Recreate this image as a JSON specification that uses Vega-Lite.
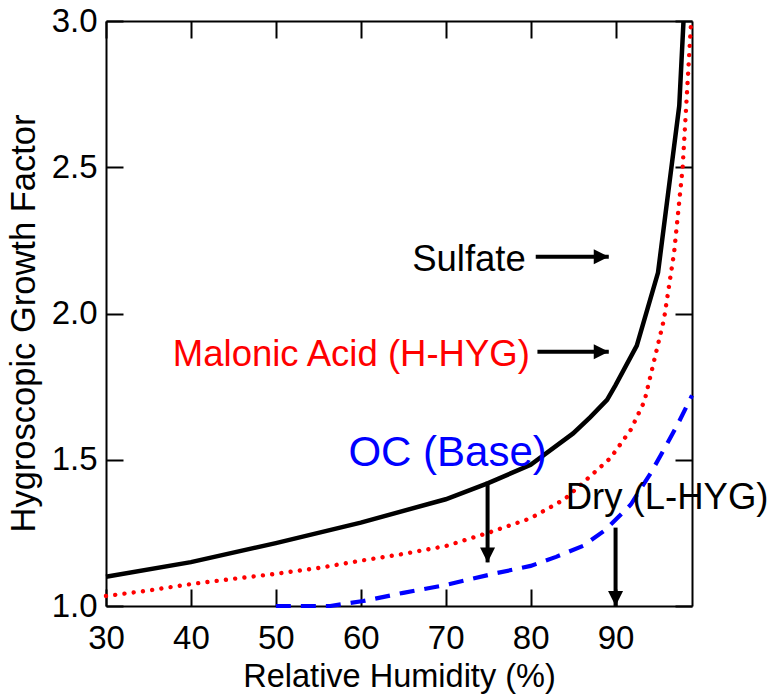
{
  "$schema": "https://vega.github.io/schema/vega-lite/v6.json",
  "width": 586,
  "height": 585,
  "autosize": "none",
  "padding": {"left": 106, "top": 21, "right": 81, "bottom": 93},
  "background": "white",
  "config": {
    "view": {"stroke": null},
    "font": "Liberation Sans",
    "axis": {
      "domainColor": "black", "domainWidth": 2,
      "tickColor": "black", "tickWidth": 2, "tickSize": -17,
      "grid": false,
      "labelFont": "Liberation Sans", "labelFontSize": 33, "labelColor": "black",
      "labelFlush": false, "labelOverlap": false,
      "titleFont": "Liberation Sans", "titleFontSize": 32.5, "titleFontWeight": "normal", "titleColor": "black"
    }
  },
  "datasets": {
    "sulfate": [
      {"rh": 30, "gf": 1.10}, {"rh": 40, "gf": 1.15}, {"rh": 50, "gf": 1.215}, {"rh": 60, "gf": 1.285},
      {"rh": 70, "gf": 1.365}, {"rh": 75, "gf": 1.42}, {"rh": 80, "gf": 1.483}, {"rh": 85, "gf": 1.59},
      {"rh": 87, "gf": 1.645}, {"rh": 89, "gf": 1.705}, {"rh": 90, "gf": 1.755}, {"rh": 92.5, "gf": 1.89},
      {"rh": 95, "gf": 2.14}, {"rh": 97.5, "gf": 2.71}, {"rh": 98, "gf": 3.0}
    ],
    "malonic": [
      {"rh": 30, "gf": 1.034}, {"rh": 35, "gf": 1.053}, {"rh": 40, "gf": 1.075}, {"rh": 45, "gf": 1.093},
      {"rh": 50, "gf": 1.11}, {"rh": 55, "gf": 1.13}, {"rh": 60, "gf": 1.155}, {"rh": 65, "gf": 1.178},
      {"rh": 70, "gf": 1.205}, {"rh": 75, "gf": 1.25}, {"rh": 80, "gf": 1.30}, {"rh": 84, "gf": 1.365},
      {"rh": 86.3, "gf": 1.425}, {"rh": 89.4, "gf": 1.506}, {"rh": 91.8, "gf": 1.603}, {"rh": 93.4, "gf": 1.70},
      {"rh": 95.7, "gf": 1.98}, {"rh": 96.9, "gf": 2.21}, {"rh": 97.9, "gf": 2.50}, {"rh": 98.9, "gf": 3.0}
    ],
    "oc": [
      {"rh": 50, "gf": 1.0}, {"rh": 56.4, "gf": 1.0}, {"rh": 60.3, "gf": 1.017}, {"rh": 65, "gf": 1.045},
      {"rh": 69.7, "gf": 1.07}, {"rh": 75.6, "gf": 1.11}, {"rh": 80, "gf": 1.137}, {"rh": 83, "gf": 1.168},
      {"rh": 86.2, "gf": 1.206}, {"rh": 88.8, "gf": 1.26}, {"rh": 91.8, "gf": 1.347}, {"rh": 94.15, "gf": 1.455},
      {"rh": 95.6, "gf": 1.53}, {"rh": 97.3, "gf": 1.62}, {"rh": 99, "gf": 1.72}
    ],
    "arrows": [
      {"x": 80.6, "y": 2.194, "x2": 89.2, "y2": 2.194, "dir": "right"},
      {"x": 80.8, "y": 1.869, "x2": 89.2, "y2": 1.869, "dir": "right"},
      {"x": 74.93, "y": 1.425, "x2": 74.93, "y2": 1.149, "dir": "down"},
      {"x": 90.0, "y": 1.268, "x2": 90.0, "y2": 1.0, "dir": "down"}
    ],
    "labels": [
      {"x": 66.05, "y": 2.144, "text": "Sulfate", "series": "sulfate"},
      {"x": 37.87, "y": 1.819, "text": "Malonic Acid (H-HYG)", "series": "malonic"},
      {"x": 84.13, "y": 1.33, "text": "Dry (L-HYG)", "series": "dry"}
    ],
    "oclabel": [
      {"x": 58.54, "y": 1.4776, "text": "OC (Base)", "series": "oc"}
    ]
  },
  "layer": [
    {
      "data": {"name": "sulfate"},
      "mark": {"type": "line", "color": "black", "strokeWidth": 4.5},
      "encoding": {
        "x": {"field": "rh", "type": "quantitative",
              "scale": {"domain": [30, 99], "nice": false, "zero": false},
              "axis": {"orient": "bottom", "values": [30, 40, 50, 60, 70, 80, 90], "labelPadding": 33,
                       "title": "Relative Humidity (%)", "titlePadding": 5}},
        "y": {"field": "gf", "type": "quantitative",
              "scale": {"domain": [1, 3], "nice": false, "zero": false},
              "axis": {"orient": "left", "values": [1, 1.5, 2, 2.5, 3], "format": ".1f", "labelPadding": 26,
                       "title": "Hygroscopic Growth Factor", "titleFontSize": 34.5, "titlePadding": 10, "titleY": 302}}
      }
    },
    {
      "data": {"name": "malonic"},
      "mark": {"type": "line", "color": "#ff0000", "strokeWidth": 4.4, "strokeDash": [0.01, 9.3], "strokeCap": "round"},
      "encoding": {
        "x": {"field": "rh", "type": "quantitative",
              "scale": {"domain": [30, 99], "nice": false, "zero": false},
              "axis": {"orient": "top", "values": [30, 40, 50, 60, 70, 80, 90], "labels": false, "title": null}},
        "y": {"field": "gf", "type": "quantitative",
              "scale": {"domain": [1, 3], "nice": false, "zero": false},
              "axis": {"orient": "right", "values": [1, 1.5, 2, 2.5, 3], "labels": false, "title": null}}
      }
    },
    {
      "data": {"name": "oc"},
      "mark": {"type": "line", "color": "#0000ff", "strokeWidth": 4.2, "strokeDash": [15, 10]},
      "encoding": {
        "x": {"field": "rh", "type": "quantitative", "axis": null},
        "y": {"field": "gf", "type": "quantitative", "axis": null}
      }
    },
    {
      "data": {"name": "arrows"},
      "mark": {"type": "rule", "color": "black", "strokeWidth": 4},
      "encoding": {
        "x": {"field": "x", "type": "quantitative", "axis": null},
        "y": {"field": "y", "type": "quantitative", "axis": null},
        "x2": {"field": "x2"},
        "y2": {"field": "y2"}
      }
    },
    {
      "data": {"name": "arrows"},
      "mark": {"type": "point", "filled": true, "color": "black", "opacity": 1, "size": 225, "strokeWidth": 0},
      "encoding": {
        "x": {"field": "x2", "type": "quantitative", "axis": null},
        "y": {"field": "y2", "type": "quantitative", "axis": null},
        "shape": {"field": "dir", "type": "nominal",
                  "scale": {"domain": ["right", "down"], "range": ["M0,0L-2,-1L-2,1Z", "M0,0L-1,-2L1,-2Z"]},
                  "legend": null}
      }
    },
    {
      "data": {"name": "labels"},
      "mark": {"type": "text", "align": "left", "baseline": "alphabetic", "font": "Liberation Sans", "fontSize": 36.5},
      "encoding": {
        "x": {"field": "x", "type": "quantitative", "axis": null},
        "y": {"field": "y", "type": "quantitative", "axis": null},
        "text": {"field": "text"},
        "color": {"field": "series", "type": "nominal",
                  "scale": {"domain": ["sulfate", "malonic", "oc", "dry"], "range": ["#000000", "#ff0000", "#0000ff", "#000000"]},
                  "legend": null}
      }
    },
    {
      "data": {"name": "oclabel"},
      "mark": {"type": "text", "align": "left", "baseline": "alphabetic", "font": "Liberation Sans", "fontSize": 42, "color": "#0000ff"},
      "encoding": {
        "x": {"field": "x", "type": "quantitative", "axis": null},
        "y": {"field": "y", "type": "quantitative", "axis": null},
        "text": {"field": "text"}
      }
    }
  ],
  "resolve": {"axis": {"x": "independent", "y": "independent"}}
}
